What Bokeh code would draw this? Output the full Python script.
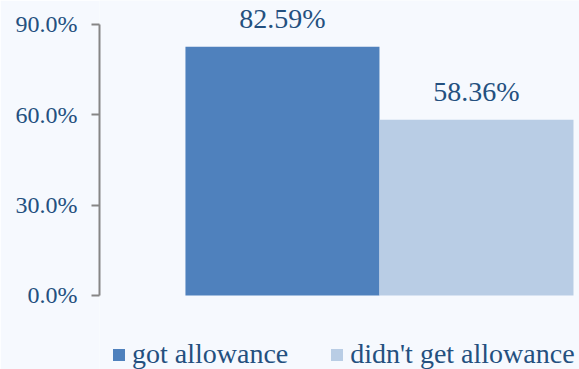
from bokeh.plotting import figure
from bokeh.models import (ColumnDataSource, Range1d, FixedTicker, Legend, LegendItem)
from bokeh.core.properties import value
from bokeh.embed import file_html
from bokeh.resources import INLINE

categories = ["got allowance", "didn't get allowance"]
values = [82.59, 58.36]
labels = ["82.59%", "58.36%"]
colors = ["#4F81BD", "#B9CDE5"]
ticks = [0, 30, 60, 90]
tick_labels = ["0.0%", "30.0%", "60.0%", "90.0%"]

BG = "#F6F9FE"
TXT = "#24507F"
FONT = "Liberation Serif"

p = figure(width=579, height=369, output_backend="svg", toolbar_location=None,
           x_range=Range1d(-0.943, 1.531), y_range=Range1d(-24.58, 97.97),
           min_border_left=99, min_border_right=0, min_border_top=0, min_border_bottom=0)
p.background_fill_color = BG
p.border_fill_color = BG
p.outline_line_color = None
p.grid.visible = False
p.xaxis.visible = False

xs = list(range(len(categories)))
src = ColumnDataSource(dict(x=xs, top=values, color=colors, label=labels, cat=categories))
renderers = []
for i in range(len(categories)):
    r = p.vbar(x=[xs[i]], top=[values[i]], width=1.0, bottom=0,
               fill_color=colors[i], line_color=None)
    renderers.append(r)

p.text(x="x", y="top", text="label", source=src, text_align="center",
       text_baseline="bottom", y_offset=-13, text_color=TXT,
       text_font=value(FONT), text_font_size="28px")

yax = p.yaxis[0]
yax.bounds = (0, 90)
yax.ticker = FixedTicker(ticks=ticks)
yax.major_label_overrides = {t: l for t, l in zip(ticks, tick_labels)}
yax.major_label_text_font = FONT
yax.major_label_text_font_size = "24px"
yax.major_label_text_color = TXT
yax.major_label_standoff = 14
yax.axis_line_color = "#868686"
yax.axis_line_width = 2
yax.major_tick_line_color = "#868686"
yax.major_tick_line_width = 2
yax.major_tick_out = 8
yax.major_tick_in = 0
yax.minor_tick_line_color = None

legend = Legend(items=[LegendItem(label=c, renderers=[r]) for c, r in zip(categories, renderers)],
                orientation="horizontal", location=(12, -1))
legend.background_fill_alpha = 0
legend.border_line_color = None
legend.padding = 0
legend.margin = 0
legend.spacing = 41
legend.glyph_width = 15
legend.glyph_height = 15
legend.label_standoff = 6
legend.label_text_font = FONT
legend.label_text_font_size = "28px"
legend.label_text_color = TXT
p.add_layout(legend, "center")

open("out.html", "w").write(file_html(p, INLINE))
